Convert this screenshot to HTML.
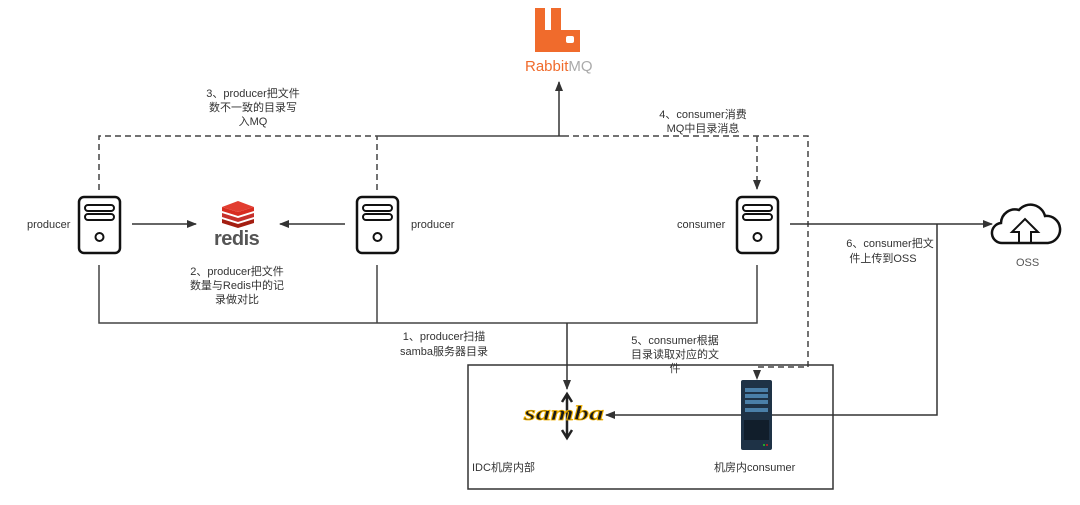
<!DOCTYPE html>
<html><head><meta charset="utf-8"><style>
html,body{margin:0;padding:0;background:#fff;}
svg{display:block;}
text{font-family:"Liberation Sans","Noto Sans CJK SC",sans-serif;font-size:11px;fill:#333;}
</style></head><body>
<svg width="1080" height="505" viewBox="0 0 1080 505" xmlns="http://www.w3.org/2000/svg">
<defs>
<marker id="ar" markerWidth="10" markerHeight="8" refX="9" refY="4" orient="auto" markerUnits="userSpaceOnUse">
<path d="M0,0 L10,4 L0,8 Z" fill="#333"/></marker>
<g id="srv">
<rect x="-20" y="-28" width="41" height="56" rx="5" fill="#fff" stroke="#111" stroke-width="2.5"/>
<rect x="-14" y="-20" width="29" height="6" rx="3" fill="none" stroke="#111" stroke-width="2"/>
<rect x="-14" y="-11" width="29" height="6" rx="3" fill="none" stroke="#111" stroke-width="2"/>
<circle cx="0.5" cy="12" r="4" fill="none" stroke="#111" stroke-width="2"/>
</g>
</defs>

<path d="M99,190 V136 H377" fill="none" stroke="#444" stroke-width="1.5" stroke-dasharray="6,4"/>
<path d="M377,190 V136" fill="none" stroke="#444" stroke-width="1.5" stroke-dasharray="6,4"/>
<path d="M377,136 H563" fill="none" stroke="#444" stroke-width="1.5"/>
<path d="M559,136 V82" fill="none" stroke="#333" stroke-width="1.5" marker-end="url(#ar)"/>
<path d="M563,136 H808 V367 H757 V379" fill="none" stroke="#444" stroke-width="1.5" stroke-dasharray="6,4" marker-end="url(#ar)"/>
<path d="M757,136 V189" fill="none" stroke="#444" stroke-width="1.5" stroke-dasharray="6,4" marker-end="url(#ar)"/>

<path d="M99,265 V323 H757 V265" fill="none" stroke="#444" stroke-width="1.5"/>
<path d="M377,265 V323" fill="none" stroke="#444" stroke-width="1.5"/>
<path d="M567,323 V389" fill="none" stroke="#333" stroke-width="1.5" marker-end="url(#ar)"/>

<path d="M132,224 H196" fill="none" stroke="#333" stroke-width="1.5" marker-end="url(#ar)"/>
<path d="M345,224 H280" fill="none" stroke="#333" stroke-width="1.5" marker-end="url(#ar)"/>

<path d="M790,224 H992" fill="none" stroke="#333" stroke-width="1.5" marker-end="url(#ar)"/>
<path d="M937,224 V415 H606" fill="none" stroke="#333" stroke-width="1.5" marker-end="url(#ar)"/>

<rect x="468" y="365" width="365" height="124" fill="none" stroke="#333" stroke-width="1.5"/>

<use href="#srv" x="99" y="225"/>
<use href="#srv" x="377" y="225"/>
<use href="#srv" x="757" y="225"/>

<text x="27" y="228">producer</text>
<text x="411" y="228">producer</text>
<text x="677" y="228">consumer</text>

<path d="M535,8 h10 v22 h6 v-22 h10 v22 h19 v22 h-45 z" fill="#f06b2c"/>
<rect x="566" y="36" width="8" height="7" rx="2" fill="#fff"/>
<text x="525" y="71" style="font-size:15px;fill:#f06b2c">Rabbit<tspan style="fill:#aaa">MQ</tspan></text>

<g>
<path d="M222,219 l16,5 l16,-5 v4 l-16,5 l-16,-5z" fill="#a41e11"/>
<path d="M222,213 l16,5 l16,-5 v4 l-16,5 l-16,-5z" fill="#c6302b"/>
<path d="M222,207 l16,5 l16,-5 v4 l-16,5 l-16,-5z" fill="#d82c20"/>
<path d="M222,207 l16,-6 l16,6 l-16,5z" fill="#e23d30"/>
<text x="214" y="245" style="font-size:20px;font-weight:bold;fill:#555;letter-spacing:-0.5px">redis</text>
</g>

<path d="M1003,243 a10,10 0 0 1 -2,-20 a14,14 0 0 1 18,-13 a15,15 0 0 1 26,6 a13,13 0 0 1 3,27 z" fill="#fff" stroke="#111" stroke-width="2.5"/>
<path d="M1019,243 v-11 h-7 l13,-13 l13,13 h-7 v11" fill="none" stroke="#111" stroke-width="2"/>
<text x="1016" y="266" style="fill:#555">OSS</text>

<path d="M567,394 V438 M562,402 l5,-8 l5,8 M562,430 l5,8 l5,-8" fill="none" stroke="#222" stroke-width="2.5"/>
<text x="524" y="420" textLength="80" lengthAdjust="spacingAndGlyphs" style="font-size:21px;font-weight:bold;font-style:italic;font-family:'Liberation Serif',serif;fill:#1a1a1a;stroke:#f0b000;stroke-width:0.8">samba</text>

<rect x="741" y="380" width="31" height="70" rx="2" fill="#1e3246"/>
<rect x="745" y="388" width="23" height="4" fill="#4a7fa8"/>
<rect x="745" y="394" width="23" height="4" fill="#4a7fa8"/>
<rect x="745" y="400" width="23" height="4" fill="#4a7fa8"/>
<rect x="745" y="408" width="23" height="4" fill="#4a7fa8"/>
<rect x="744" y="420" width="25" height="20" fill="#111e2b"/>
<circle cx="764" cy="445" r="1" fill="#2c2"/><circle cx="767" cy="445" r="1" fill="#c22"/>

<g text-anchor="middle">
<text x="253" y="97">3、producer把文件</text>
<text x="253" y="111">数不一致的目录写</text>
<text x="253" y="125">入MQ</text>
<text x="703" y="118">4、consumer消费</text>
<text x="703" y="132">MQ中目录消息</text>
<text x="237" y="275">2、producer把文件</text>
<text x="237" y="289">数量与Redis中的记</text>
<text x="237" y="303">录做对比</text>
<text x="444" y="340">1、producer扫描</text>
<text x="444" y="355">samba服务器目录</text>
<text x="675" y="344">5、consumer根据</text>
<text x="675" y="358">目录读取对应的文</text>
<text x="675" y="372">件</text>
<text x="890" y="247">6、consumer把文</text>
<text x="883" y="262">件上传到OSS</text>
</g>
<text x="472" y="471">IDC机房内部</text>
<text x="714" y="471">机房内consumer</text>
</svg>
</body></html>
